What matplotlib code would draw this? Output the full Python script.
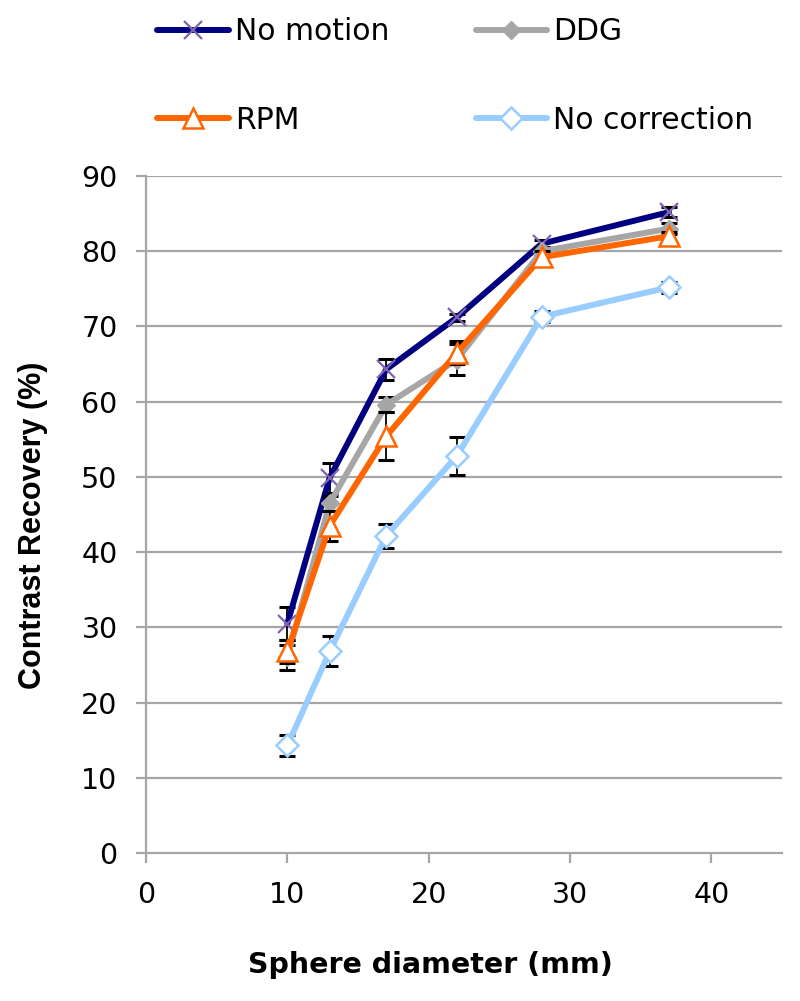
import matplotlib
matplotlib.use("Agg")
import matplotlib.pyplot as plt

plt.rcParams['font.family'] = ['DejaVu Sans']

diam = [10, 13, 17, 22, 28, 37]
no_motion = [30.5, 49.9, 64.3, 71.2, 81.0, 85.2]
no_motion_err = [2.2, 2.0, 1.4, 0.5, 0.5, 0.7]
ddg = [26.0, 46.5, 59.6, 65.6, 80.0, 83.0]
ddg_err = [1.7, 1.0, 1.0, 2.1, 0.6, 0.7]
rpm = [26.8, 43.5, 55.4, 66.5, 79.2, 82.0]
rpm_err = [1.5, 2.0, 3.2, 1.5, 0.8, 0.6]
no_corr = [14.3, 26.8, 42.2, 52.8, 71.3, 75.2]
no_corr_err = [1.4, 2.0, 1.6, 2.5, 0.7, 0.7]

xticks = [0, 10, 20, 30, 40]
yticks = [0, 10, 20, 30, 40, 50, 60, 70, 80, 90]

W, H = 800, 1001
fig = plt.figure(figsize=(W / 100, H / 100), dpi=100)
ax = fig.add_axes([146 / W, 1 - 853 / H, (782 - 146) / W, (853 - 176) / H])

grid_c = '#A6A6A6'
for y in yticks[1:]:
    ax.axhline(y, color=grid_c, lw=1.6, zorder=0)

series = [
    ('No motion', no_motion, no_motion_err, '#000080',
     dict(marker='x', markersize=13, markeredgecolor='#7F62B0', markeredgewidth=1.6)),
    ('DDG', ddg, ddg_err, '#A6A6A6',
     dict(marker='D', markersize=9, markerfacecolor='#A6A6A6', markeredgecolor='#A6A6A6')),
    ('RPM', rpm, rpm_err, '#FF6600',
     dict(marker='^', markersize=14, markerfacecolor='white', markeredgecolor='#FF6600', markeredgewidth=1.8)),
    ('No correction', no_corr, no_corr_err, '#99CCFF',
     dict(marker='D', markersize=11, markerfacecolor='white', markeredgecolor='#99CCFF', markeredgewidth=1.8)),
]

handles = []
for i, (name, vals, err, col, mk) in enumerate(series):
    ax.errorbar(diam, vals, yerr=err, fmt='none', ecolor='black', elinewidth=1.3,
                capsize=6, capthick=2.2, zorder=2 + i)
    h, = ax.plot(diam, vals, color=col, lw=4.3, solid_capstyle='round',
                 solid_joinstyle='round', zorder=3 + i, label=name, **mk)
    handles.append(h)

ax.set_xlim(0, 45)
ax.set_ylim(0, 90)
ax.set_xticks(xticks)
ax.set_yticks(yticks)
for s in ['top', 'right']:
    ax.spines[s].set_visible(False)
for s in ['left', 'bottom']:
    ax.spines[s].set_color(grid_c)
    ax.spines[s].set_linewidth(1.6)
ax.tick_params(axis='both', colors=grid_c, width=1.6, length=7.5, labelsize=20.5,
               labelcolor='black')
ax.tick_params(axis='x', pad=13)
ax.tick_params(axis='y', pad=13)

fig.text(430 / W, 1 - 965 / H, 'Sphere diameter (mm)', fontsize=20.5, fontweight='bold',
         ha='center', va='center')
fig.text(33 / W, 1 - 525 / H, 'Contrast Recovery (%)', fontsize=22, fontweight='bold',
         family='Liberation Sans', rotation=90, ha='center', va='center')

fig.legend(handles=[handles[0], handles[2], handles[1], handles[3]],
           labels=['No motion', 'RPM', 'DDG', 'No correction'],
           loc='upper left', bbox_to_anchor=(157 / W, 1 - 17 / H), ncol=2,
           frameon=False, fontsize=21.5, handlelength=2.4, handletextpad=0.2,
           labelspacing=2.0, columnspacing=2.9, borderpad=0, borderaxespad=0)

fig.savefig('out.png', dpi=100)
